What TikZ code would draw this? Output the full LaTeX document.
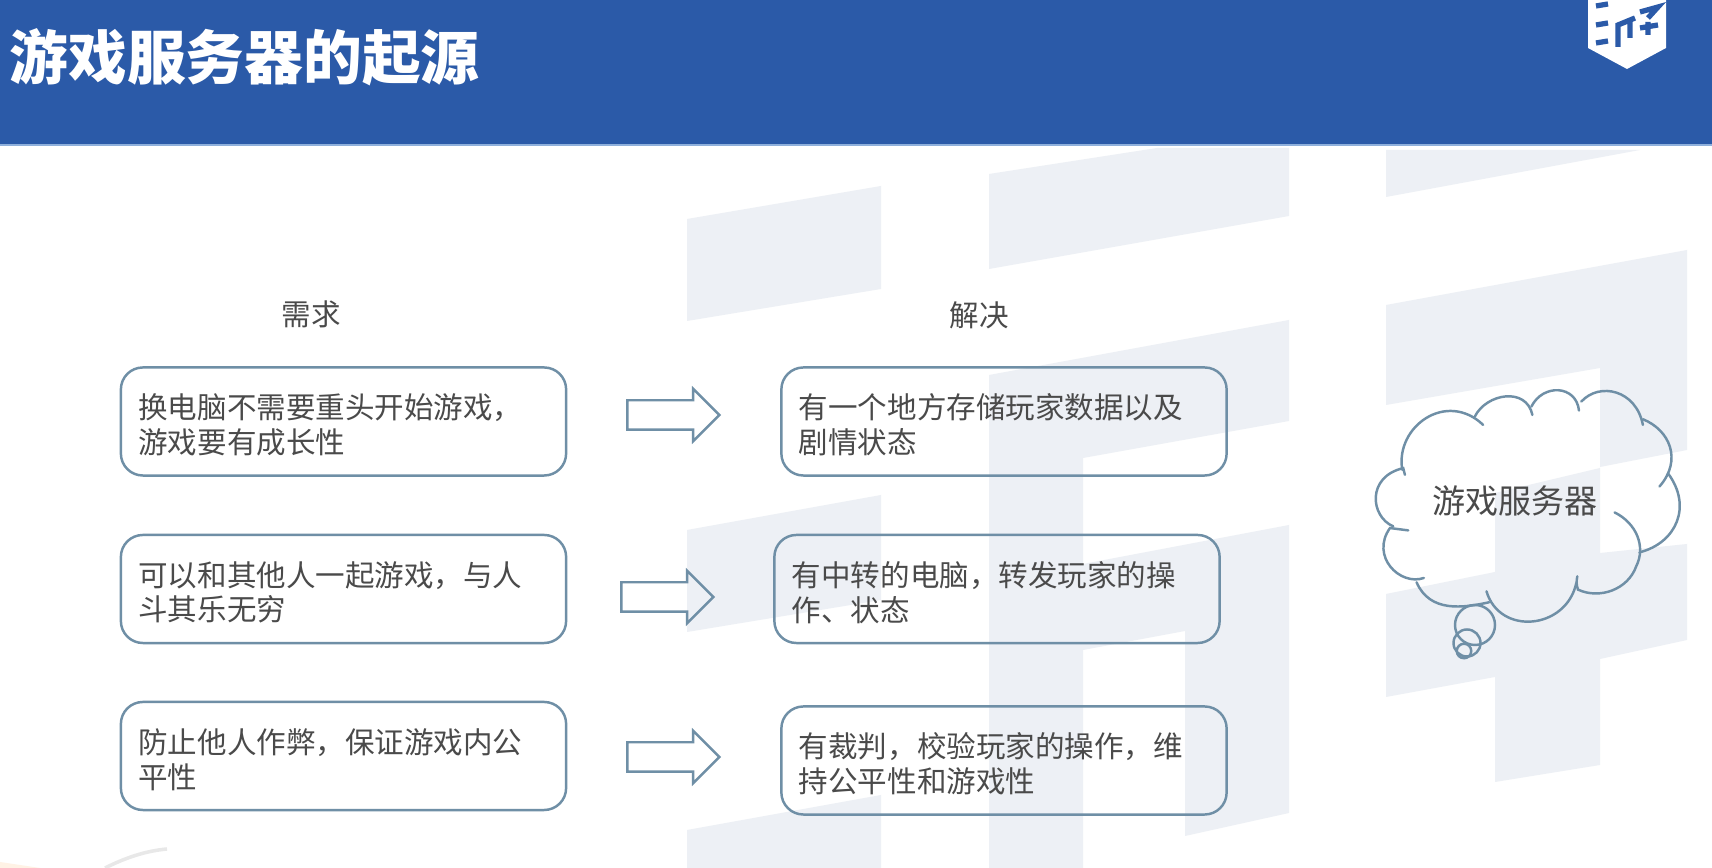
\documentclass[tikz,border=0pt]{standalone}
\usepackage{fontspec}
\usetikzlibrary{shapes.arrows}
\newfontfamily\cjk{Noto Sans CJK SC}
\definecolor{headblue}{HTML}{2B5AA8}
\definecolor{headline}{HTML}{8FB0DC}
\definecolor{markgray}{HTML}{EDF0F5}
\definecolor{linegray}{HTML}{6F8FA6}
\definecolor{textgray}{HTML}{4A4A4A}
\tikzset{
  reqbox/.style={draw=linegray,line width=0.7pt,rounded corners=0.22cm,
    minimum width=4.45cm,minimum height=1.08cm,text width=4.1cm,align=left,inner sep=0pt,
    execute at begin node={\rule{0pt}{9pt}},
    font=\cjk\fontsize{8.4}{9.9}\selectfont,text=textgray},
  goarrow/.style={single arrow,draw=linegray,line width=0.7pt,minimum height=0.92cm,
    single arrow head extend=0.115cm,single arrow head indent=0pt,inner xsep=0pt,inner ysep=0.135cm},
  headtext/.style={font=\cjk\fontsize{8.4}{10}\selectfont,text=textgray},
  puffline/.style={draw=linegray,line width=0.7pt,line cap=round},
  logobar/.style={draw=headblue,line width=1.5pt}
}
\begin{document}
\begin{tikzpicture}[x=0.01cm,y=-0.01cm]
  \useasboundingbox (0,0) rectangle (1712,868);
  \fill[white] (0,0) rectangle (1712,868);

  % pale logo behind the content
  \fill[markgray] (687,219) -- (881,186) -- (881,289) -- (687,321) -- cycle;
  \fill[markgray] (989,174) -- (1157,148) -- (1289,148) -- (1289,216) -- (989,269) -- cycle;
  \fill[markgray] (1386,150) -- (1640,150) -- (1386,197) -- cycle;
  \fill[markgray] (1386,305) -- (1687,250) -- (1687,450) -- (1600,467) -- (1600,368) -- (1386,405) -- cycle;
  \fill[markgray] (989,375) -- (1289,320) -- (1289,421) -- (1083,458) -- (1083,868) -- (989,868) -- cycle;
  \fill[markgray] (687,530) -- (881,495) -- (881,600) -- (687,632) -- cycle;
  \fill[markgray] (1083,564) -- (1289,525) -- (1289,813) -- (1185,836) -- (1185,631) -- (1083,650) -- cycle;
  \fill[markgray] (1495,493) -- (1600,468) -- (1600,560) -- (1495,590) -- cycle;
  \fill[markgray] (1386,594) -- (1495,572) -- (1600,553) -- (1687,544) -- (1687,640) -- (1600,659) -- (1600,765) -- (1495,782) -- (1495,677) -- (1386,697) -- cycle;
  \fill[markgray] (687,830) -- (881,795) -- (881,868) -- (687,868) -- cycle;

  % faint marks in the lower corner
  \draw[black!9,line width=1pt] (105,868) .. controls (125,858) and (145,851) .. (167,849);
  \fill[orange!10] (0,862) -- (40,868) -- (0,868) -- cycle;

  % title bar
  \fill[headblue] (0,0) rectangle (1712,145);
  \fill[headline] (0,144) rectangle (1712,146);
  \node[anchor=west,font=\cjk\bfseries\fontsize{16.7}{20}\selectfont,text=white,inner sep=0pt] (title) at (9,57) {游戏服务器的起源};

  % small shield in the corner
  \fill[white] (1588,0) -- (1666,0) -- (1666,48) -- (1627,69) -- (1588,48) -- cycle;
  \foreach \ya in {5,24,42}
    \draw[logobar] (1596,\ya+1) -- (1608,\ya-1);
  \draw[logobar] (1618,47) -- (1618,25) -- (1635,18) (1630,22) -- (1630,38);
  \draw[logobar] (1640,12) -- (1658,7) -- (1648,18) (1640,28) -- (1658,25) (1648,22) -- (1648,35);

  \node[headtext] (needhead) at (311,314) {需求};
  \node[headtext] (fixhead) at (979,315) {解决};

  \node[reqbox] (need1) at (343.5,421.5) {换电脑不需要重头开始游戏，\\游戏要有成长性};
  \node[reqbox] (need2) at (343.5,589) {可以和其他人一起游戏，与人\\斗其乐无穷};
  \node[reqbox] (need3) at (343.5,756) {防止他人作弊，保证游戏内公\\平性};
  \node[reqbox] (fix1) at (1004,421.5) {有一个地方存储玩家数据以及\\剧情状态};
  \node[reqbox] (fix2) at (997,589) {有中转的电脑，转发玩家的操\\作、状态};
  \node[reqbox] (fix3) at (1004,760.5) {有裁判，校验玩家的操作，维\\持公平性和游戏性};

  \node[goarrow] (go1) at (666,415) {};
  \node[goarrow] (go2) at (660,597) {};
  \node[goarrow] (go3) at (666,757) {};

  % thought cloud, one stroke per puff
  \begin{scope}[shift={(1350,360)},x=0.003333cm,y=-0.003333cm]
    \draw[puffline] (157,330) .. controls (135,200) and (290,90) .. (400,195);
    \draw[puffline] (375,170) .. controls (410,100) and (530,80) .. (548,165);
    \draw[puffline] (545,140) .. controls (580,70) and (680,75) .. (688,152);
    \draw[puffline] (695,125) .. controls (750,65) and (860,90) .. (880,195);
    \draw[puffline] (880,178) .. controls (960,210) and (1000,300) .. (930,380);
    \draw[puffline] (955,340) .. controls (1030,440) and (980,550) .. (870,578);
    \draw[puffline] (795,458) .. controls (860,490) and (890,560) .. (860,620)
      .. controls (835,690) and (750,720) .. (685,690) .. controls (680,675) and (680,665) .. (683,650);
    \draw[puffline] (680,670) .. controls (650,810) and (450,830) .. (410,695);
    \draw[puffline] (418,728) .. controls (340,745) and (240,760) .. (200,668);
    \draw[puffline] (222,655) .. controls (150,680) and (60,590) .. (120,505) -- (175,512);
    \draw[puffline] (130,500) .. controls (60,470) and (50,350) .. (160,325) -- (165,345);
  \end{scope}
  \node[font=\cjk\fontsize{9.4}{11}\selectfont,text=textgray,inner sep=0pt] (cloudtext) at (1515,501) {游戏服务器};
  \node[circle,puffline,minimum size=0.40cm,inner sep=0pt] (puffa) at (1475,625) {};
  \node[circle,puffline,minimum size=0.27cm,inner sep=0pt] (puffb) at (1467,643) {};
  \node[circle,puffline,minimum size=0.145cm,inner sep=0pt] (puffc) at (1464,651) {};
\end{tikzpicture}
\end{document}
